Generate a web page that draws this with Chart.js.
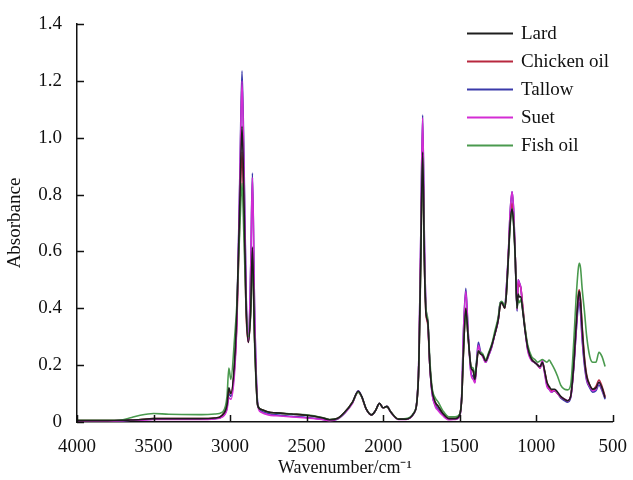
<!DOCTYPE html>
<html>
<head>
<meta charset="utf-8">
<script src="https://cdn.jsdelivr.net/npm/chart.js@4.4.1/dist/chart.umd.min.js"></script>
<style>
  html, body { margin: 0; padding: 0; background: #fff; }
  #wrap { width: 633px; height: 480px; position: relative; }
</style>
</head>
<body>
<div id="wrap"><canvas id="ftirChart"></canvas></div>
<script>
// ===================================================================
// DATA - FTIR spectra of animal fats
// ===================================================================
const seriesNames = ['Lard', 'Chicken oil', 'Tallow', 'Suet', 'Fish oil'];

const wavenumbers = [
  4000, 3800, 3700, 3650, 3600, 3500, 3400, 3200, 3100, 3050,
  3020, 3008, 2995, 2970, 2955, 2935, 2922, 2910, 2895, 2880,
  2865, 2854, 2840, 2820, 2800, 2750, 2700, 2600, 2500, 2400,
  2350, 2300, 2250, 2200, 2163, 2140, 2110, 2076, 2050, 2024,
  2000, 1975, 1950, 1900, 1850, 1800, 1770, 1755, 1742, 1730,
  1720, 1708, 1695, 1680, 1660, 1640, 1610, 1570, 1530, 1500,
  1487, 1475, 1460, 1445, 1425, 1412, 1400, 1390, 1378, 1365,
  1350, 1330, 1310, 1290, 1270, 1248, 1235, 1225, 1205, 1195,
  1183, 1170, 1158, 1148, 1137, 1125, 1118, 1110, 1100, 1090,
  1075, 1055, 1030, 1010, 990, 975, 960, 945, 930, 915,
  900, 880, 860, 840, 815, 795, 775, 755, 740, 725,
  718, 710, 700, 685, 670, 650, 630, 610, 590, 570, 550
];

const lard = [
  .005, .005, .006, .007, .008, .012, .012, .012, .014, .025,
  .06, .12, .10, .22, .40, .80, 1.04, .80, .40, .28,
  .40, .615, .30, .06, .045, .035, .032, .028, .024, .015,
  .008, .012, .035, .07, .108, .09, .045, .025, .04, .066,
  .05, .055, .035, .01, .01, .03, .15, .55, .95, .55,
  .38, .35, .20, .11, .07, .055, .03, .012, .012, .025,
  .08, .25, .40, .30, .19, .18, .15, .20, .25, .24,
  .235, .215, .24, .27, .31, .36, .41, .42, .40, .45,
  .57, .70, .75, .70, .58, .40, .45, .44, .44, .40,
  .33, .26, .22, .21, .20, .195, .21, .18, .14, .125,
  .115, .115, .105, .09, .08, .075, .09, .20, .33, .44,
  .46, .42, .33, .22, .16, .13, .115, .12, .14, .12, .085
];

const chickenOil = [
  .005, .005, .006, .007, .008, .012, .012, .012, .014, .025,
  .06, .11, .10, .20, .36, .75, .95, .74, .38, .28,
  .40, .60, .30, .06, .045, .035, .032, .028, .024, .015,
  .008, .012, .035, .07, .105, .088, .045, .025, .04, .065,
  .05, .054, .035, .01, .01, .03, .15, .55, .94, .55,
  .38, .34, .20, .11, .07, .055, .03, .012, .012, .025,
  .08, .25, .40, .30, .19, .18, .15, .20, .25, .24,
  .235, .215, .24, .27, .31, .36, .41, .42, .40, .45,
  .57, .71, .77, .72, .58, .40, .49, .48, .47, .42,
  .34, .26, .22, .21, .20, .19, .21, .18, .14, .12,
  .11, .11, .10, .088, .08, .075, .09, .20, .33, .45,
  .465, .43, .34, .23, .165, .13, .115, .125, .148, .125, .09
];

const tallow = [
  .004, .004, .005, .006, .007, .010, .010, .010, .012, .020,
  .05, .10, .09, .20, .38, .90, 1.235, .95, .45, .28,
  .55, .876, .40, .07, .04, .03, .025, .02, .016, .01,
  .006, .01, .032, .068, .11, .09, .045, .025, .04, .066,
  .05, .055, .035, .01, .01, .03, .16, .62, 1.08, .62,
  .40, .35, .20, .10, .06, .045, .025, .01, .01, .022,
  .09, .32, .47, .32, .17, .16, .14, .21, .28, .25,
  .235, .21, .235, .265, .31, .36, .42, .42, .405, .47,
  .58, .74, .81, .75, .58, .39, .50, .49, .47, .41,
  .335, .253, .218, .21, .20, .19, .21, .175, .13, .115,
  .105, .11, .10, .085, .075, .07, .085, .19, .31, .41,
  .42, .38, .29, .20, .145, .12, .105, .11, .13, .11, .08
];

const suet = [
  .004, .004, .005, .006, .006, .009, .009, .009, .011, .018,
  .045, .085, .08, .18, .36, .88, 1.20, .92, .44, .28,
  .54, .86, .40, .06, .035, .025, .022, .018, .014, .009,
  .005, .01, .032, .066, .108, .088, .044, .024, .04, .065,
  .05, .054, .034, .009, .009, .03, .16, .62, 1.07, .62,
  .40, .35, .20, .10, .055, .04, .022, .008, .009, .02,
  .09, .32, .46, .32, .165, .15, .137, .20, .27, .245,
  .23, .21, .235, .265, .31, .36, .42, .42, .405, .47,
  .58, .74, .81, .75, .58, .395, .50, .49, .47, .41,
  .335, .25, .215, .21, .20, .19, .218, .17, .125, .115,
  .105, .113, .10, .088, .08, .075, .088, .19, .31, .43,
  .44, .40, .30, .21, .15, .125, .11, .115, .14, .115, .085
];

const fishOil = [
  .006, .006, .008, .015, .022, .030, .027, .026, .028, .035,
  .09, .19, .15, .30, .42, .70, .84, .66, .40, .30,
  .38, .58, .28, .06, .045, .035, .032, .028, .025, .016,
  .009, .012, .035, .07, .105, .088, .045, .025, .04, .065,
  .05, .054, .035, .01, .012, .032, .15, .52, .93, .55,
  .40, .36, .22, .12, .085, .07, .04, .018, .018, .028,
  .08, .25, .39, .30, .195, .19, .165, .21, .25, .245,
  .24, .22, .245, .275, .32, .37, .42, .425, .41, .45,
  .56, .69, .75, .70, .57, .40, .43, .42, .43, .40,
  .34, .27, .23, .22, .21, .215, .22, .215, .21, .218,
  .205, .185, .16, .13, .115, .113, .13, .28, .43, .54,
  .558, .54, .47, .39, .30, .23, .21, .21, .245, .23, .195
];

const seriesValues = [lard, chickenOil, tallow, suet, fishOil];
const seriesColors = ['#1e1e1e', '#b8283f', '#3a3aaa', '#d42cd4', '#4a9a4e'];
// lower number = drawn on top
const seriesOrder = [0, 3, 4, 2, 1];

const xTickValues = [4000, 3500, 3000, 2500, 2000, 1500, 1000, 500];
const yTickValues = [0, 0.2, 0.4, 0.6, 0.8, 1.0, 1.2, 1.4];

// Theme
const serif = "'Liberation Serif', 'Times New Roman', serif";
const ink = '#111';

// ===================================================================
// PLUGINS: inward ticks + legend box in the top-right corner
// ===================================================================
const inwardTicks = {
  id: 'inwardTicks',
  afterDraw(chart) {
    const { ctx, chartArea, scales } = chart;
    const len = 7;
    ctx.save();
    ctx.strokeStyle = ink;
    ctx.lineWidth = 1.5;
    ctx.beginPath();
    xTickValues.forEach(v => {
      const px = Math.round(scales.x.getPixelForValue(v)) + 0.5;
      ctx.moveTo(px, chartArea.bottom);
      ctx.lineTo(px, chartArea.bottom - len);
    });
    yTickValues.forEach(v => {
      const py = Math.round(scales.y.getPixelForValue(v)) + 0.5;
      ctx.moveTo(chartArea.left, py);
      ctx.lineTo(chartArea.left + len, py);
    });
    ctx.stroke();
    ctx.restore();
  }
};

const cornerLegend = {
  id: 'cornerLegend',
  afterDraw(chart) {
    const { ctx } = chart;
    const x0 = 467, x1 = 513, tx = 521, y0 = 33.5, gap = 28;
    ctx.save();
    ctx.font = '19px ' + serif;
    ctx.textBaseline = 'middle';
    ctx.textAlign = 'left';
    chart.data.datasets.forEach((ds, i) => {
      const y = y0 + i * gap;
      ctx.strokeStyle = ds.borderColor;
      ctx.lineWidth = 2;
      ctx.beginPath();
      ctx.moveTo(x0, y);
      ctx.lineTo(x1, y);
      ctx.stroke();
      ctx.fillStyle = ink;
      ctx.fillText(ds.label, tx, y + 1);
    });
    ctx.restore();
  }
};

// ===================================================================
// LINE CHART: Absorbance vs wavenumber
// ===================================================================
const ctx = document.getElementById('ftirChart').getContext('2d');
const ftirChart = new Chart(ctx, {
  type: 'line',
  data: {
    datasets: seriesNames.map((name, i) => ({
      label: name,
      data: wavenumbers.map((w, j) => ({ x: w, y: seriesValues[i][j] })),
      borderColor: seriesColors[i],
      borderWidth: 1.6,
      pointRadius: 0,
      fill: false,
      order: seriesOrder[i],
      cubicInterpolationMode: 'monotone'
    }))
  },
  options: {
    responsive: true,
    maintainAspectRatio: false,
    animation: false,
    layout: { padding: { top: 24, right: 18, left: 0, bottom: 0 } },
    scales: {
      x: {
        type: 'linear',
        reverse: true,
        min: 500,
        max: 4000,
        afterFit(scale) { scale.height = 58; },
        afterBuildTicks(scale) { scale.ticks = xTickValues.map(v => ({ value: v })); },
        grid: { display: false },
        border: { display: true, color: ink, width: 1.5 },
        ticks: {
          color: ink,
          padding: 6,
          maxRotation: 0,
          font: { family: serif, size: 19 },
          callback: v => String(v)
        },
        title: {
          display: true,
          text: 'Wavenumber/cm\u207B\u00B9',
          color: ink,
          font: { family: serif, size: 18 },
          padding: { top: 0, bottom: 1 }
        }
      },
      y: {
        min: 0,
        max: 1.4,
        afterFit(scale) { scale.width = 77; },
        afterBuildTicks(scale) { scale.ticks = yTickValues.map(v => ({ value: v })); },
        grid: { display: false },
        border: { display: true, color: ink, width: 1.5 },
        ticks: {
          color: ink,
          padding: 7,
          font: { family: serif, size: 19 },
          callback: v => (v === 0 ? '0' : v.toFixed(1))
        },
        title: {
          display: true,
          text: 'Absorbance',
          color: ink,
          font: { family: serif, size: 19 },
          padding: { top: 4, bottom: 0 }
        }
      }
    },
    plugins: {
      legend: { display: false },
      tooltip: { enabled: false }
    }
  },
  plugins: [inwardTicks, cornerLegend]
});
</script>
</body>
</html>
